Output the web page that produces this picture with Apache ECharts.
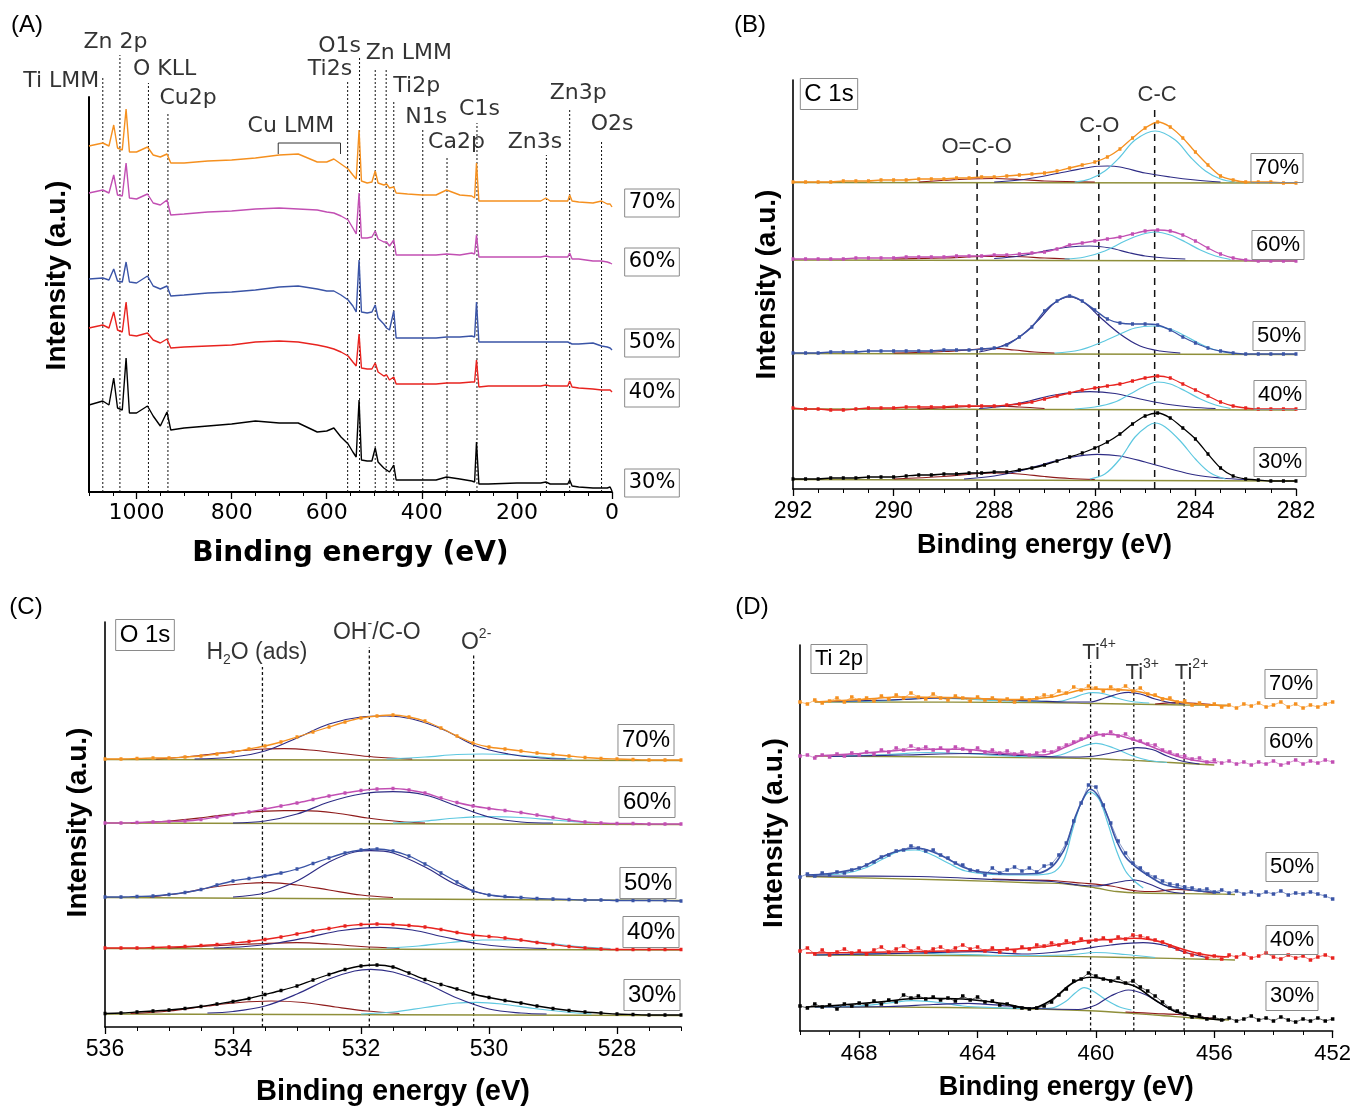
<!DOCTYPE html>
<html>
<head>
<meta charset="utf-8">
<script src="https://cdn.jsdelivr.net/npm/echarts@6.0.0/dist/echarts.min.js"></script>
<style>
  html, body { margin: 0; padding: 0; background: #fff; }
  #main { width: 1354px; height: 1107px; }
</style>
</head>
<body>
<div id="main"></div>
<script>
// ---------- (A) survey spectra ----------
const surveyEnergy = [1100, 1071, 1058, 1048, 1040, 1030, 1022, 1015, 1000, 977, 965, 950, 936, 928, 900, 850, 800, 750, 700, 660, 620, 600, 585, 570, 555, 545, 538, 532, 527, 515, 505, 498, 492, 480, 474, 468, 459, 454, 430, 400, 370, 348, 320, 295, 289, 285, 280, 260, 200, 150, 139, 130, 100, 93, 89, 84, 70, 40, 22, 10, 4, 0];
const survey70 = [346, 349, 346, 367, 344, 342, 383, 340, 340, 345, 337, 335, 338, 329, 329, 331, 332, 334, 337, 338, 330, 330, 333, 328, 323, 317, 313, 362, 311, 309, 310, 321, 309, 307, 308, 304, 305, 299, 298, 297, 297, 302, 297, 296, 294, 329, 291, 291, 291, 291, 294, 291, 291, 291, 297, 291, 290, 289, 291, 288, 288, 285];
const survey60 = [299, 302, 299, 317, 297, 296, 329, 294, 293, 298, 289, 287, 292, 277, 278, 280, 281, 283, 284, 283, 282, 280, 279, 276, 272, 264, 258, 299, 254, 254, 255, 261, 253, 250, 250, 246, 252, 237, 237, 237, 237, 238, 237, 239, 238, 257, 235, 235, 235, 235, 236, 235, 235, 235, 239, 233, 233, 231, 231, 230, 229, 228];
const survey50 = [213, 214, 212, 223, 211, 210, 230, 210, 209, 216, 206, 203, 206, 196, 197, 199, 200, 202, 205, 206, 203, 201, 201, 197, 192, 186, 180, 232, 180, 179, 180, 187, 174, 168, 164, 162, 181, 154, 154, 154, 154, 155, 155, 156, 155, 190, 150, 150, 150, 150, 150, 150, 150, 150, 151, 148, 148, 149, 146, 145, 144, 142];
const survey40 = [164, 167, 164, 180, 162, 160, 190, 157, 156, 159, 152, 149, 153, 144, 145, 146, 147, 150, 151, 150, 147, 145, 143, 140, 136, 130, 126, 158, 124, 123, 123, 129, 120, 116, 117, 112, 115, 108, 108, 108, 108, 109, 109, 110, 110, 132, 105, 106, 106, 106, 107, 106, 106, 106, 111, 105, 104, 103, 102, 102, 102, 100];
const survey30 = [87, 91, 87, 114, 84, 82, 134, 79, 79, 86, 76, 66, 80, 62, 64, 66, 68, 71, 69, 69, 60, 61, 64, 55, 48, 40, 35, 92, 32, 31, 31, 44, 30, 24, 22, 20, 27, 12, 12, 12, 12, 15, 13, 11, 10, 50, 8, 8, 9, 9, 10, 8, 8, 8, 12, 6, 5, 4, 4, 4, 5, 1];
const surveyLines = [1071, 1035, 975, 934, 556, 531, 498, 475, 459, 398, 347, 284, 138, 89, 22];
const surveyLineTops = [414, 437, 409, 380, 410, 435, 424, 424, 392, 364, 335, 369, 337, 382, 352];
const surveyLineNames = ['Ti LMM', 'Zn 2p', 'O KLL', 'Cu2p', 'Ti2s', 'O1s', 'Zn LMM', '', 'Ti2p', 'N1s', 'Ca2p', 'C1s', 'Zn3s', 'Zn3p', 'O2s'];
const cuLmmEdges = [702, 571];
const cuLmmLevels = [338, 349];

// ---------- (B) C 1s ----------
const c1sEnergy = [292, 291.75, 291.5, 291.25, 291, 290.75, 290.5, 290.25, 290, 289.75, 289.5, 289.25, 289, 288.75, 288.5, 288.25, 288, 287.75, 287.5, 287.25, 287, 286.75, 286.5, 286.25, 286, 285.75, 285.5, 285.25, 285, 284.75, 284.5, 284.25, 284, 283.75, 283.5, 283.25, 283, 282.75, 282.5, 282.25, 282];
const c1s70 = [307, 307, 307, 307, 308, 308, 308, 309, 309, 309, 310, 310, 310, 311, 311, 312, 312, 313, 314, 315, 316, 318, 321, 324, 327, 332, 340, 351, 361, 367, 362, 351, 337, 324, 313, 309, 307, 307, 307, 306, 306];
const c1s60 = [230, 230, 230, 230, 230, 231, 231, 231, 231, 232, 232, 232, 232, 233, 233, 233, 234, 234, 235, 236, 237, 240, 244, 246, 248, 250, 252, 255, 258, 259, 258, 254, 248, 241, 235, 231, 229, 228, 228, 228, 228];
const c1s50 = [136, 136, 136, 137, 137, 137, 138, 138, 138, 138, 138, 138, 139, 139, 139, 140, 141, 144, 152, 162, 178, 188, 193, 188, 179, 170, 166, 165, 165, 164, 159, 152, 146, 141, 138, 136, 135, 135, 135, 135, 135];
const c1s40 = [81, 80, 80, 79, 79, 80, 81, 81, 81, 82, 82, 82, 82, 83, 83, 83, 83, 84, 85, 87, 90, 93, 96, 99, 101, 103, 105, 108, 111, 113, 111, 105, 99, 93, 87, 83, 81, 80, 80, 80, 80];
const c1s30 = [10, 10, 10, 11, 11, 11, 12, 12, 12, 13, 14, 14, 15, 15, 16, 16, 17, 17, 19, 21, 24, 28, 32, 36, 41, 47, 55, 65, 73, 76, 71, 61, 50, 35, 21, 13, 10, 9, 8, 8, 8];
const c1s70cc = [[286.4, 307], [286.1, 310], [285.8, 318], [285.5, 332], [285.2, 349], [284.8, 358], [284.4, 349], [284.1, 332], [283.8, 318], [283.5, 310], [283.2, 307]];
const c1s70co = [[288, 307], [287.5, 309], [287, 313], [286.5, 318], [286, 322.5], [285.75, 323], [285.5, 322], [285, 316], [284.5, 312], [284, 309], [283.5, 307]];
const c1s70oco = [[289.5, 307], [288.5, 310], [288, 310.5], [287.5, 309.5], [287, 308], [286, 307]];
const c1s70bg = [[292, 306.5], [282, 306]];
const c1s60cc = [[286.6, 230], [286.2, 232], [285.8, 238], [285.4, 248], [285.1, 254], [284.8, 257], [284.5, 254], [284.2, 247], [283.9, 239], [283.6, 233], [283.3, 229.5]];
const c1s60co = [[288, 230.5], [287.5, 233], [287, 238], [286.5, 242], [286.1, 243], [285.7, 241], [285.3, 236], [285, 233], [284.6, 231], [284.2, 230]];
const c1s60oco = [[290, 230], [289, 231], [288.2, 232.5], [287.6, 232.5], [287, 231], [286.5, 230]];
const c1s60bg = [[292, 229], [282, 228]];
const c1s50cc = [[286.8, 136], [286.3, 139], [285.9, 146], [285.5, 155], [285.2, 161], [284.85, 163], [284.5, 160], [284.2, 153], [283.9, 145], [283.6, 139], [283.3, 136]];
const c1s50co = [[288.3, 137], [287.9, 142], [287.5, 152], [287.1, 170], [286.8, 186], [286.5, 192], [286.2, 186], [285.9, 172], [285.5, 155], [285.1, 143], [284.7, 138], [284.3, 136]];
const c1s50oco = [[290, 136], [289, 137.5], [288.3, 140], [288, 140.7], [287.6, 139], [287.2, 137], [286.8, 136]];
const c1s50bg = [[292, 135.5], [282, 134.5]];
const c1s40cc = [[286.4, 80], [286, 82], [285.6, 87], [285.3, 95], [285, 103], [284.75, 107], [284.5, 105], [284.2, 98], [283.9, 90], [283.6, 84], [283.3, 80.5]];
const c1s40co = [[288.3, 80.5], [287.8, 83], [287.3, 88], [286.8, 94], [286.1, 97.3], [285.6, 95.5], [285.1, 90], [284.6, 85], [284.1, 82], [283.6, 80.5]];
const c1s40oco = [[289.5, 80], [288.5, 82.5], [288, 83], [287.5, 82], [287, 80.5]];
const c1s40bg = [[292, 80], [282, 79]];
const c1s30cc = [[286.1, 10], [285.8, 15], [285.5, 30], [285.2, 52], [284.95, 63], [284.8, 66], [284.6, 62], [284.3, 48], [284, 30], [283.7, 16], [283.4, 10]];
const c1s30co = [[288.6, 10], [288, 13], [287.5, 18], [287, 25], [286.5, 31.5], [285.95, 34.7], [285.5, 33], [285, 27], [284.5, 20], [284, 14], [283.5, 11], [283, 9.5]];
const c1s30oco = [[290, 10], [289, 12.5], [288.3, 15.5], [288, 16], [287.5, 15], [287, 12.5], [286.5, 10.5], [286, 9.5]];
const c1s30bg = [[292, 9.5], [282, 8]];
const c1sLines = [288.34, 285.92, 284.81];
const c1sLineTops = [331, 354, 383];
const c1sLineNames = ['O=C-O', 'C-O', 'C-C'];

// ---------- (C) O 1s ----------
const o1sEnergy = [536, 535.75, 535.5, 535.25, 535, 534.75, 534.5, 534.25, 534, 533.75, 533.5, 533.25, 533, 532.75, 532.5, 532.25, 532, 531.75, 531.5, 531.25, 531, 530.75, 530.5, 530.25, 530, 529.75, 529.5, 529.25, 529, 528.75, 528.5, 528.25, 528, 527.75, 527.5, 527.25, 527];
const o1s70 = [268, 268, 268.5, 269, 269, 270, 271, 273, 275, 278, 281, 285, 290, 295, 300, 305, 309, 311, 312, 310, 306, 299, 291, 284, 280, 278, 276, 274, 272.5, 271, 269.5, 268.5, 268, 267.5, 267, 267, 267];
const o1s60 = [204, 204, 204.5, 205, 205.5, 206, 207.5, 210, 212.5, 215, 218, 221, 224, 227.5, 231, 234, 236.5, 238, 238.5, 237, 234, 229, 224.5, 221, 218.5, 216.5, 214.5, 212, 209.5, 207, 205, 204, 203.5, 203.5, 203, 203, 203];
const o1s50 = [130, 130, 130.5, 131, 132.5, 134.5, 137.5, 142, 146, 148.5, 151, 154, 158, 163.5, 169, 174, 177, 178, 176, 171, 163, 154, 145, 136, 132, 130.5, 129.5, 128.5, 128, 127.5, 127, 127, 126.5, 126.5, 126.5, 126.5, 126];
const o1s40 = [79, 79, 79, 79.5, 80, 80.5, 81.5, 82.5, 84, 85.5, 87.5, 90, 93, 96, 98.5, 101, 102.5, 103, 102.5, 101.5, 100, 97.5, 94.5, 92, 90.5, 89, 87, 84.5, 82.5, 80.5, 79, 78, 77.5, 77.5, 77.5, 77.5, 77.5];
const o1s30 = [13.5, 14, 15, 16, 17, 18.5, 20.5, 23, 25.5, 28.5, 32.5, 36.5, 41, 47, 52.5, 57.5, 61, 62, 60, 54, 47.5, 42.5, 38, 33, 29.5, 26.5, 24, 21, 18.5, 16.5, 15, 14, 13, 12.5, 12, 12, 12];
const o1s70oh = [[534.6, 268], [534, 270], [533.5, 276], [533, 289], [532.5, 303], [532, 310], [531.6, 311], [531.2, 308], [530.7, 297], [530.2, 281], [529.7, 273], [529.2, 269], [528.8, 268]];
const o1s70h2o = [[535.2, 268], [534.6, 271], [534, 275.5], [533.5, 278], [533.2, 278.3], [532.8, 277], [532.3, 273.5], [531.8, 270], [531.2, 268]];
const o1s70o2 = [[531.6, 268], [531, 270], [530.5, 272.5], [530.1, 273], [529.6, 272], [529.1, 269.5], [528.7, 268]];
const o1s70bg = [[536, 267.5], [527, 266.5]];
const o1s60oh = [[534, 204], [533.5, 206], [533, 213], [532.5, 225], [532, 233], [531.5, 235.3], [531, 232], [530.5, 221], [530, 210], [529.5, 205], [529, 204]];
const o1s60h2o = [[535.6, 204], [535, 206], [534.4, 210], [533.8, 214.5], [533.2, 216.3], [532.9, 216.3], [532.4, 214], [531.9, 209], [531.4, 205.5], [531, 204]];
const o1s60o2 = [[531.5, 204], [531, 206], [530.5, 209], [530, 210.3], [529.5, 209.5], [529, 207], [528.4, 204]];
const o1s60bg = [[536, 204], [527, 202.5]];
const o1s50oh = [[534, 130], [533.5, 134], [533, 146], [532.5, 165], [532.1, 175], [531.85, 176.3], [531.5, 174], [531, 160], [530.5, 142], [530, 132], [529.6, 129.5]];
const o1s50h2o = [[535.3, 130], [534.8, 134], [534.3, 140], [533.8, 143.5], [533.45, 144.3], [533, 142], [532.5, 137], [532, 132], [531.5, 129.5]];
const o1s50bg = [[536, 129.5], [527, 126.5]];
const o1s40oh = [[534.3, 79], [533.8, 80.5], [533.3, 84], [532.8, 90], [532.3, 96.5], [531.7, 99.7], [531.2, 97], [530.7, 90], [530.2, 83.5], [529.7, 80], [529.1, 78.5]];
const o1s40h2o = [[535, 79], [534.2, 81.5], [533.5, 83.5], [533, 84.3], [532.5, 83], [532, 80.5], [531.4, 78.8]];
const o1s40o2 = [[531.6, 79], [531.1, 81], [530.6, 84.5], [530.1, 87], [529.6, 87], [529.1, 84], [528.6, 80.5], [528.1, 78.5]];
const o1s40bg = [[536, 78.5], [527, 77]];
const o1s30oh = [[534.4, 14], [534, 15.5], [533.5, 21], [533, 33], [532.5, 48], [532.1, 56], [531.85, 57.7], [531.5, 55], [531, 44], [530.5, 29], [530, 18], [529.5, 14], [529.1, 13]];
const o1s30h2o = [[535.6, 13.5], [535, 16], [534.4, 21], [533.9, 24.5], [533.4, 26], [532.9, 24.5], [532.4, 20], [531.9, 16], [531.4, 13.5]];
const o1s30o2 = [[532, 13], [531.5, 15], [531, 19.5], [530.5, 24], [530.2, 24.7], [529.8, 23], [529.3, 18.5], [528.8, 15], [528.4, 13]];
const o1s30bg = [[536, 13], [527, 11.5]];
const o1sLines = [533.54, 531.87, 530.24];
const o1sLineTops = [360, 380, 372];
const o1sLineNames = ['H{sub|2}O (ads)', 'OH{sup|-}/C-O', 'O{sup|2-}'];

// ---------- (D) Ti 2p ----------
const ti2pEnergy = [470, 469.75, 469.5, 469.25, 469, 468.75, 468.5, 468.25, 468, 467.75, 467.5, 467.25, 467, 466.75, 466.5, 466.25, 466, 465.75, 465.5, 465.25, 465, 464.75, 464.5, 464.25, 464, 463.75, 463.5, 463.25, 463, 462.75, 462.5, 462.25, 462, 461.75, 461.5, 461.25, 461, 460.75, 460.5, 460.25, 460, 459.75, 459.5, 459.25, 459, 458.75, 458.5, 458.25, 458, 457.75, 457.5, 457.25, 457, 456.75, 456.5, 456.25, 456, 455.75, 455.5, 455.25, 455, 454.75, 454.5, 454.25, 454, 453.75, 453.5, 453.25, 453, 452.75, 452.5, 452.25, 452];
const ti70 = [329, 327, 331, 328, 330, 333, 329, 334, 331, 333, 330, 335, 332, 336, 333, 338, 334, 332, 337, 333, 331, 335, 333, 330, 334, 331, 333, 330, 332, 329, 333, 331, 333, 336, 335, 340, 338, 344, 341, 345, 343, 340, 344, 341, 345, 340, 343, 337, 336, 332, 333, 329, 330, 326, 328, 325, 327, 324, 326, 323, 327, 325, 328, 324, 326, 329, 324, 327, 323, 326, 324, 327, 329];
const ti60 = [275, 276, 273, 276, 274, 277, 275, 278, 276, 279, 277, 281, 279, 283, 281, 285, 282, 284, 281, 283, 280, 284, 282, 280, 283, 279, 281, 278, 280, 277, 279, 276, 278, 280, 279, 283, 286, 289, 292, 295, 298, 296, 299, 295, 297, 292, 290, 287, 286, 281, 279, 276, 275, 272, 273, 269, 271, 268, 270, 267, 269, 266, 269, 267, 270, 266, 268, 271, 267, 270, 268, 271, 269];
const ti50 = [154, 157, 155, 158, 156, 159, 158, 161, 163, 166, 169, 174, 176, 180, 181, 185, 183, 180, 181, 176, 173, 168, 166, 161, 160, 156, 163, 158, 161, 164, 160, 163, 159, 165, 167, 176, 188, 210, 228, 246, 244, 226, 208, 190, 178, 168, 163, 157, 154, 150, 147, 146, 144, 143, 141, 142, 139, 141, 138, 140, 137, 139, 136, 139, 137, 140, 136, 138, 137, 139, 137, 135, 132];
const ti40 = [80, 83, 77, 81, 76, 79, 82, 78, 80, 77, 81, 84, 79, 82, 85, 80, 83, 79, 82, 84, 80, 83, 86, 82, 84, 80, 83, 79, 82, 80, 84, 82, 86, 85, 88, 86, 90, 88, 92, 89, 91, 93, 90, 94, 92, 96, 95, 93, 91, 89, 85, 82, 79, 76, 77, 73, 75, 72, 76, 74, 77, 73, 75, 78, 74, 72, 76, 73, 75, 71, 74, 76, 73];
const ti30 = [25, 23, 27, 24, 26, 22, 27, 25, 28, 26, 30, 27, 31, 29, 36, 33, 35, 32, 34, 31, 33, 30, 35, 31, 34, 29, 30, 26, 27, 24, 23, 22, 23, 25, 29, 36, 42, 50, 52, 58, 55, 52, 50, 53, 48, 50, 44, 40, 35, 29, 23, 20, 17, 14, 16, 12, 14, 11, 13, 10, 12, 15, 11, 13, 10, 14, 11, 9, 12, 10, 13, 10, 12];
const ti70fit = [[469.5, 329], [468, 331.5], [466.5, 334], [465, 333.5], [463.5, 332], [462.5, 331.5], [461.5, 334], [461, 337.5], [460.5, 341], [460, 342], [459.5, 341.5], [459, 341], [458.5, 339], [458, 335], [457.5, 331], [457, 328], [456.5, 326.5], [455.5, 325.5]];
const ti70t4 = [[469.5, 329], [467.5, 330], [466, 332.5], [465.5, 333], [464.5, 332], [463.5, 330.5], [462.5, 329.8], [461.3, 329.5], [460.8, 333], [460.4, 337], [460.1, 338.3], [459.7, 337], [459.3, 333], [458.8, 329.5], [458.2, 328]];
const ti70t3 = [[469, 329.5], [467, 331], [465, 333], [464, 332.5], [463, 331], [462, 330], [461, 329], [460.2, 329], [459.7, 333], [459.2, 337.5], [458.9, 338.7], [458.5, 337], [458, 332], [457.5, 328.5], [457, 327]];
const ti70t2 = [[458, 327], [457.2, 328.3], [456.5, 327.3], [456, 326]];
const ti70bg = [[469.5, 329], [462, 328.5], [460, 327.5], [457, 326], [455.5, 325.5]];
const ti60fit = [[469.5, 275], [468, 277.5], [467.25, 279.3], [466, 281.5], [464.5, 281.7], [463.2, 277.7], [461.8, 276], [461, 284.3], [460.2, 294.3], [459.6, 296.7], [459.06, 294.3], [458.4, 287.7], [457.7, 279.3], [457, 272.7], [456.3, 269], [455.9, 268.3]];
const ti60t4 = [[469, 274.5], [467, 276.5], [465.7, 278.5], [464.5, 277.5], [463, 275], [461.8, 274], [461.2, 276], [460.6, 283], [460, 287.7], [459.4, 283], [458.8, 275.5], [458.2, 270.5], [457.6, 268.5]];
const ti60t3 = [[469, 274.5], [466.5, 276], [464.3, 277.5], [462.5, 275.5], [461, 274], [460.2, 274.5], [459.5, 278], [459, 281.5], [458.6, 283.3], [458.1, 281.5], [457.6, 275], [457.1, 270], [456.5, 267]];
const ti60bg = [[469.5, 275], [461, 273], [459, 271], [457.5, 268.5], [456, 266]];
const ti50fit = [[469.8, 156], [469, 157.5], [468, 163], [467.5, 170], [467, 177], [466.5, 181.5], [466, 182.7], [465.5, 179], [465, 172], [464.5, 164], [464, 159.5], [463, 157], [462, 157.5], [461.5, 164], [461.2, 175], [461, 186], [460.7, 214], [460.4, 234], [460.2, 241.7], [459.9, 234], [459.6, 214], [459.3, 190], [459, 174], [458.6, 163], [458.1, 153], [457.7, 146.5], [457, 142], [456.3, 139.5], [455.8, 138.5]];
const ti50t4 = [[469.5, 156], [468.5, 157.5], [467.8, 163], [467.2, 172], [466.6, 180], [466.1, 181], [465.6, 177], [465, 168], [464.4, 160], [463.5, 156.5], [462.2, 156], [461.5, 158], [461.1, 170], [460.8, 200], [460.5, 228], [460.2, 239], [459.9, 232], [459.6, 208], [459.3, 180], [459, 160], [458.7, 150], [458.4, 143]];
const ti50t3 = [[469.8, 155], [466, 154.5], [463, 151], [461.5, 149.5], [460.6, 146], [460, 145], [459.3, 148.5], [458.7, 151], [458.2, 147], [457.6, 140], [457, 137.5]];
const ti50t2 = [[463.5, 152], [462.5, 151], [461.5, 150.5], [460.5, 148], [459.5, 145], [458.6, 140], [458, 139.5], [457.3, 141.7], [456.7, 140.5], [456, 138]];
const ti50bg = [[469.8, 154.5], [465, 151], [462, 148], [461, 147], [460, 143], [459.3, 139.5], [458.5, 138], [456, 137], [455.3, 136.5]];
const ti40fit = [[469.8, 78], [468, 78.5], [466, 79.5], [464, 80.5], [463, 81.5], [462, 83.5], [461, 87.5], [460.3, 90.5], [459.5, 91.5], [458.7, 92.7], [458.2, 91.5], [457.7, 88], [457.2, 83], [456.6, 78], [456, 75], [455.5, 74]];
const ti40t4 = [[469.5, 76], [466.5, 78], [465, 77], [463, 75.5], [461, 76], [460, 78.5], [459, 76.5], [458, 73.5]];
const ti40t3 = [[469.5, 76], [466, 78], [464, 79.3], [462.5, 77], [461.5, 78.5], [460.5, 82], [459.5, 86], [458.4, 88.3], [457.6, 85], [456.9, 78], [456.2, 73]];
const ti40bg = [[469.5, 76], [462, 75], [459, 73.5], [456, 71.5], [455.3, 71]];
const ti30fit = [[469.8, 24], [468.6, 26], [467.25, 29.3], [465.9, 32.7], [464.5, 32], [463.2, 27.7], [462.2, 22.7], [461.5, 31], [460.8, 47.7], [460.2, 53.7], [459.3, 49.3], [458.65, 44.3], [458, 31], [457.3, 19.3], [456.3, 12.7], [455.65, 11]];
const ti30t4 = [[469.5, 24], [468, 25], [467, 28], [466.2, 30.3], [465.3, 28.5], [464.5, 25], [463.5, 23.5], [462, 22.5], [461.5, 23], [461, 30], [460.7, 38], [460.4, 43.3], [460.1, 40], [459.7, 32], [459.2, 24], [458.8, 21]];
const ti30t3 = [[469.5, 24], [467, 24.5], [465.5, 26.5], [464.3, 27.7], [463, 25], [462, 22.5], [460.6, 21.5], [460, 26], [459.5, 35], [458.9, 41], [458.3, 36], [457.8, 27], [457.2, 18], [456.6, 14]];
const ti30t2 = [[459, 19], [458, 17.5], [457.2, 16.5], [456.5, 14], [456, 12.5]];
const ti30bg = [[469.5, 24], [465, 23.5], [462, 22], [460, 20], [458, 16], [456.5, 12.5], [455.5, 11]];
const ti2pLines = [460.18, 458.72, 457.02];
const ti2pLineTops = [369, 351, 351];
const ti2pLineNames = ['Ti{sup|4+}', 'Ti{sup|3+}', 'Ti{sup|2+}'];

// ---------- axis ticks ----------
const surveyTicks = [0, 200, 400, 600, 800, 1000];
const surveyMinor = [0, 50, 100, 150, 200, 250, 300, 350, 400, 450, 500, 550, 600, 650, 700, 750, 800, 850, 900, 950, 1000, 1050, 1100];
const c1sTicks = [282, 284, 286, 288, 290, 292];
const c1sMinor = [282, 282.5, 283, 283.5, 284, 284.5, 285, 285.5, 286, 286.5, 287, 287.5, 288, 288.5, 289, 289.5, 290, 290.5, 291, 291.5, 292];
const o1sTicks = [528, 530, 532, 534, 536];
const o1sMinor = [527, 527.5, 528, 528.5, 529, 529.5, 530, 530.5, 531, 531.5, 532, 532.5, 533, 533.5, 534, 534.5, 535, 535.5, 536];
const ti2pTicks = [452, 456, 460, 464, 468];
const ti2pMinor = [452, 453, 454, 455, 456, 457, 458, 459, 460, 461, 462, 463, 464, 465, 466, 467, 468, 469, 470];

// ---------- styles ----------
const SANS = '"Liberation Sans", Arial, sans-serif';
const WIDE = '"DejaVu Sans", sans-serif';
const pctColor = { 30: '#000000', 40: '#E8231F', 50: '#3A54A6', 60: '#C24FB3', 70: '#F5901F' };
const compColor = { cyan: '#5EC8E0', navy: '#2E2C85', red: '#8E1B1B', olive: '#8F8F3A' };

var chartDom = document.getElementById('main');
var myChart = echarts.init(chartDom);

const grids = [
  { left: 89, top: 97, width: 523, height: 395 },
  { left: 793, top: 80, width: 503, height: 409 },
  { left: 105, top: 622, width: 576, height: 405 },
  { left: 800, top: 645, width: 534, height: 386 }
];

function zip(xs, ys) {
  return xs.map((x, i) => [x, ys[i]]);
}

function xAxes(g, min, max, major, minor, o) {
  return [
    {
      type: 'value', gridIndex: g, min: min, max: max, inverse: true, position: 'bottom',
      axisLine: { show: true, onZero: false, lineStyle: { color: '#000', width: o.lw } },
      axisTick: { show: true, length: 7, customValues: major, lineStyle: { color: '#000', width: 1.3 } },
      axisLabel: {
        show: true, customValues: major, margin: o.margin, fontFamily: o.labelFont, fontSize: o.labelSize, color: '#000',
        formatter: function (v) { return String(v); }
      },
      splitLine: { show: false },
      name: 'Binding energy (eV)', nameLocation: 'middle', nameGap: o.nameGap,
      nameTextStyle: { fontFamily: o.nameFont, fontSize: o.nameSize, fontWeight: 'bold', color: '#000' }
    },
    {
      type: 'value', gridIndex: g, min: min, max: max, inverse: true, position: 'bottom',
      axisLine: { show: false, onZero: false },
      axisTick: { show: true, length: 4, customValues: minor, lineStyle: { color: '#000', width: 1 } },
      axisLabel: { show: false },
      splitLine: { show: false }
    }
  ];
}

function yAxis(g, max, lw, gap, shift) {
  return {
    type: 'value', gridIndex: g, min: 0, max: max, position: 'left',
    axisLine: { show: true, onZero: false, lineStyle: { color: '#000', width: lw } },
    axisTick: { show: false }, axisLabel: { show: false }, splitLine: { show: false },
    name: 'Intensity (a.u.)', nameLocation: 'middle', nameRotate: 90, nameGap: gap,
    nameTextStyle: { fontFamily: SANS, fontSize: 28, fontWeight: 'bold', color: '#000', padding: [0, 0, 0, shift] }
  };
}

const series = [];

function addSpectrum(g, data, color, width, withDots) {
  series.push({
    type: 'line', xAxisIndex: 2 * g, yAxisIndex: g, data: data, z: 4,
    smooth: withDots ? 0.25 : false,
    symbol: withDots ? 'rect' : 'none', symbolSize: [3, 3.5], showSymbol: !!withDots,
    itemStyle: { color: color }, lineStyle: { color: color, width: width }
  });
}

function addCurve(g, data, color, width, z) {
  series.push({
    type: 'line', xAxisIndex: 2 * g, yAxisIndex: g, data: data, z: z || 2,
    smooth: 0.35, symbol: 'none', lineStyle: { color: color, width: width }
  });
}

// noisy Ti 2p points: square dots joined by a hairline, as in the dense original scan
function addDots(g, data, color) {
  series.push({
    type: 'line', xAxisIndex: 2 * g, yAxisIndex: g, data: data, z: 3,
    symbol: 'rect', symbolSize: 3.5, showSymbol: true,
    itemStyle: { color: color }, lineStyle: { color: color, width: 0.7, opacity: 0.85 }
  });
}

function addMarkers(g, xs, tops, dash, width) {
  xs.forEach((x, i) => {
    series.push({
      type: 'line', xAxisIndex: 2 * g, yAxisIndex: g, data: [[x, 0], [x, tops[i]]], z: 1,
      clip: false, symbol: 'none', lineStyle: { color: '#111', width: width, type: dash }
    });
  });
}

const richScripts = {
  sub: { fontSize: 14, verticalAlign: 'bottom', lineHeight: 30, fontFamily: SANS, color: '#000' },
  sup: { fontSize: 14, verticalAlign: 'top', lineHeight: 30, fontFamily: SANS, color: '#000' }
};

function addNotes(g, xs, tops, names, layout, font, size) {
  const data = [];
  names.forEach((n, i) => {
    if (!n) return;
    data.push({
      value: [xs[i], tops[i]],
      label: {
        show: true, formatter: n, position: [layout[i][0], layout[i][1]], align: layout[i][2],
        verticalAlign: 'middle', fontFamily: font, fontSize: size, color: '#000',
        textBorderWidth: 0, lineHeight: 30, rich: richScripts
      }
    });
  });
  series.push({
    type: 'scatter', xAxisIndex: 2 * g, yAxisIndex: g, data: data, z: 6, clip: false,
    symbolSize: 1, itemStyle: { color: 'rgba(255,255,255,0)' }, silent: true
  });
}

// (A)
[[survey30, 30], [survey40, 40], [survey50, 50], [survey60, 60], [survey70, 70]].forEach(([v, p]) => {
  addSpectrum(0, zip(surveyEnergy, v), pctColor[p], 1.4, false);
});
addMarkers(0, surveyLines, surveyLineTops, [2, 2], 1);
series.push({
  type: 'line', xAxisIndex: 0, yAxisIndex: 0, z: 2, clip: false, symbol: 'none',
  data: [[cuLmmEdges[0], cuLmmLevels[0]], [cuLmmEdges[0], cuLmmLevels[1]], [cuLmmEdges[1], cuLmmLevels[1]], [cuLmmEdges[1], cuLmmLevels[0]]],
  lineStyle: { color: '#333', width: 1 }
});
const surveyLabelLayout = [[-3, 4, 'right'], [-4, -12, 'center'], [-15, -13, 'left'], [-8, -13, 'left'], [5, -12, 'right'], [2, -10, 'right'], [-9, -14, 'left'], [0, 0, 'left'], [0, -13, 'left'], [4, -10, 'center'], [10, -14, 'center'], [3, -13, 'center'], [-11, -12, 'center'], [9, -16, 'center'], [11, -15, 'center']];
addNotes(0, surveyLines, surveyLineTops, surveyLineNames, surveyLabelLayout, WIDE, 22);
addNotes(0, [(cuLmmEdges[0] + cuLmmEdges[1]) / 2], [cuLmmLevels[1]], ['Cu LMM'], [[-18, -16, 'center']], WIDE, 22);

// (B)
addMarkers(1, c1sLines, c1sLineTops, [7, 5], 1.5);
[
  [c1s70, c1s70cc, c1s70co, c1s70oco, c1s70bg, 70],
  [c1s60, c1s60cc, c1s60co, c1s60oco, c1s60bg, 60],
  [c1s50, c1s50cc, c1s50co, c1s50oco, c1s50bg, 50],
  [c1s40, c1s40cc, c1s40co, c1s40oco, c1s40bg, 40],
  [c1s30, c1s30cc, c1s30co, c1s30oco, c1s30bg, 30]
].forEach(([env, cc, co, oco, bg, p]) => {
  addCurve(1, bg, compColor.olive, 1.3);
  addCurve(1, oco, compColor.red, 1.2);
  addCurve(1, co, compColor.navy, 1.2);
  addCurve(1, cc, compColor.cyan, 1.2);
  addSpectrum(1, zip(c1sEnergy, env), pctColor[p], 1.3, true);
});
addNotes(1, c1sLines, c1sLineTops, c1sLineNames, [[0, -11, 'center'], [1, -9, 'center'], [3, -11, 'center']], SANS, 22);

// (C)
addMarkers(2, o1sLines, o1sLineTops, [3, 2.5], 1.3);
[
  [o1s70, o1s70oh, o1s70h2o, o1s70o2, o1s70bg, 70],
  [o1s60, o1s60oh, o1s60h2o, o1s60o2, o1s60bg, 60],
  [o1s50, o1s50oh, o1s50h2o, null, o1s50bg, 50],
  [o1s40, o1s40oh, o1s40h2o, o1s40o2, o1s40bg, 40],
  [o1s30, o1s30oh, o1s30h2o, o1s30o2, o1s30bg, 30]
].forEach(([env, oh, h2o, o2, bg, p]) => {
  addCurve(2, bg, compColor.olive, 1.3);
  addCurve(2, h2o, compColor.red, 1.2);
  if (o2) addCurve(2, o2, compColor.cyan, 1.2);
  addCurve(2, oh, compColor.navy, 1.2);
  addSpectrum(2, zip(o1sEnergy, env), pctColor[p], 1.3, true);
});
addNotes(2, o1sLines, o1sLineTops, o1sLineNames, [[-5, -14, 'center'], [8, -14, 'center'], [3, -12, 'center']], SANS, 23);

// (D)
addMarkers(3, ti2pLines, ti2pLineTops, [3, 2.5], 1.3);
[
  [ti70, ti70fit, ti70t4, ti70t3, ti70t2, ti70bg, 70],
  [ti60, ti60fit, ti60t4, ti60t3, null, ti60bg, 60],
  [ti50, ti50fit, ti50t4, ti50t3, ti50t2, ti50bg, 50],
  [ti40, ti40fit, ti40t4, ti40t3, null, ti40bg, 40],
  [ti30, ti30fit, ti30t4, ti30t3, ti30t2, ti30bg, 30]
].forEach(([dots, fit, t4, t3, t2, bg, p]) => {
  addCurve(3, bg, compColor.olive, 1.3);
  if (t2) addCurve(3, t2, compColor.red, 1.2);
  addCurve(3, t4, compColor.cyan, 1.2);
  addCurve(3, t3, compColor.navy, 1.2);
  addDots(3, zip(ti2pEnergy, dots), pctColor[p]);
  addCurve(3, fit, pctColor[p], 1.6, 4);
});
addNotes(3, ti2pLines, ti2pLineTops, ti2pLineNames, [[9, -9, 'center'], [9, -7, 'center'], [8, -7, 'center']], SANS, 22);

// boxed texts and panel letters
const panelLetters = [['(A)', 27, 25], ['(B)', 750, 25], ['(C)', 26, 607], ['(D)', 752, 607]];
const boxTags = [
  ['70%', 652, 203, WIDE, 21], ['60%', 652, 262, WIDE, 21], ['50%', 652, 343, WIDE, 21], ['40%', 652, 393, WIDE, 21], ['30%', 652, 483, WIDE, 21],
  ['C 1s', 829, 94, SANS, 24],
  ['70%', 1277, 168, SANS, 22], ['60%', 1278, 245, SANS, 22], ['50%', 1279, 336, SANS, 22], ['40%', 1280, 395, SANS, 22], ['30%', 1280, 462, SANS, 22],
  ['O 1s', 145, 635, SANS, 24],
  ['70%', 646, 740, SANS, 24], ['60%', 647, 802, SANS, 24], ['50%', 648, 883, SANS, 24], ['40%', 651, 932, SANS, 24], ['30%', 652, 995, SANS, 24],
  ['Ti 2p', 839, 659, SANS, 22],
  ['70%', 1291, 684, SANS, 22], ['60%', 1291, 742, SANS, 22], ['50%', 1292, 867, SANS, 22], ['40%', 1292, 940, SANS, 22], ['30%', 1292, 996, SANS, 22]
];

const graphic = [];
panelLetters.forEach(([t, x, y]) => {
  graphic.push({ type: 'text', x: x, y: y, silent: true, style: { text: t, font: '24px ' + SANS, fill: '#000', align: 'center', verticalAlign: 'middle' } });
});
boxTags.forEach(([t, x, y, f, s]) => {
  graphic.push({
    type: 'text', x: x, y: y, silent: true, z: 10,
    style: { text: t, font: s + 'px ' + f, fill: '#000', align: 'center', verticalAlign: 'middle', padding: [4, 4, 3, 4], borderColor: '#8a8a8a', borderWidth: 1 }
  });
});

var option = {
  animation: false,
  backgroundColor: '#ffffff',
  textStyle: { fontFamily: SANS },
  grid: grids,
  xAxis: [].concat(
    xAxes(0, 0, 1100, surveyTicks, surveyMinor, { lw: 2, margin: 10, labelFont: WIDE, labelSize: 22, nameFont: WIDE, nameSize: 28, nameGap: 48 }),
    xAxes(1, 282, 292, c1sTicks, c1sMinor, { lw: 1.6, margin: 11, labelFont: SANS, labelSize: 23, nameFont: SANS, nameSize: 27, nameGap: 43 }),
    xAxes(2, 527, 536, o1sTicks, o1sMinor, { lw: 1.6, margin: 11, labelFont: SANS, labelSize: 23, nameFont: SANS, nameSize: 29, nameGap: 50 }),
    xAxes(3, 452, 470, ti2pTicks, ti2pMinor, { lw: 1.6, margin: 12, labelFont: SANS, labelSize: 22, nameFont: SANS, nameSize: 27, nameGap: 43 })
  ),
  yAxis: [
    yAxis(0, 395, 2, 18, 38),
    yAxis(1, 409, 1.6, 12, 0),
    yAxis(2, 405, 1.6, 13, 4),
    yAxis(3, 386, 1.6, 12, 10)
  ],
  graphic: graphic,
  series: series
};

option && myChart.setOption(option);
</script>
</body>
</html>
